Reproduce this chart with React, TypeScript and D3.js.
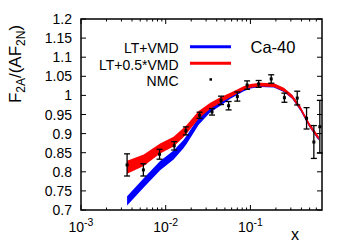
import * as d3 from 'd3';

const WIDTH = 350;
const HEIGHT = 245;
const MARGIN = { top: 19, right: 28, bottom: 35, left: 81 };

// NMC data: x, ratio, error
const nmcX = [0.0035, 0.00545, 0.00846, 0.0126, 0.0173, 0.0251, 0.0352, 0.045, 0.0553, 0.0701, 0.0914, 0.125, 0.176, 0.252, 0.357, 0.46, 0.561, 0.66];
const nmcY = [0.818, 0.805, 0.846, 0.868, 0.907, 0.948, 0.957, 0.987, 0.973, 0.997, 1.027, 1.03, 1.043, 0.994, 0.993, 0.94, 0.878, 0.918];
const nmcErr = [0.029, 0.016, 0.013, 0.011, 0.0105, 0.008, 0.0085, 0.011, 0.011, 0.012, 0.011, 0.009, 0.011, 0.012, 0.018, 0.028, 0.043, 0.069];

// model bands: centre and half width
const bandX = [0.0035, 0.0055, 0.0086, 0.0124, 0.0163, 0.0178, 0.0245, 0.0336, 0.0442, 0.058, 0.0833, 0.1, 0.131, 0.189, 0.248, 0.311, 0.39, 0.49, 0.64];
const redC = [0.812, 0.830, 0.861, 0.879, 0.903, 0.912, 0.949, 0.973, 0.988, 1.001, 1.019, 1.025, 1.028, 1.027, 1.015, 0.997, 0.966, 0.925, 0.888];
const redW = [0.017, 0.015, 0.013, 0.013, 0.012, 0.011, 0.01, 0.008, 0.007, 0.006, 0.005, 0.005, 0.005, 0.005, 0.005, 0.005, 0.005, 0.005, 0.005];
const blueC = [0.724, 0.771, 0.816, 0.844, 0.873, 0.885, 0.933, 0.964, 0.980, 0.997, 1.016, 1.023, 1.027, 1.026, 1.014, 0.996, 0.965, 0.924, 0.887];
const blueW = [0.012, 0.012, 0.012, 0.012, 0.011, 0.011, 0.01, 0.008, 0.007, 0.006, 0.005, 0.005, 0.005, 0.005, 0.005, 0.005, 0.005, 0.005, 0.005];

const yTicks = [0.7, 0.75, 0.8, 0.85, 0.9, 0.95, 1, 1.05, 1.1, 1.15, 1.2];
const xMajor = [1e-3, 1e-2, 1e-1];
const xLabels = ['-3', '-2', '-1'];

const legendNames = ['LT+VMD', 'LT+0.5*VMD', 'NMC'];
const legendColors = ['#0000ff', '#ff0000', '#000000'];

const FONT = 'Liberation Sans, Arial, Helvetica, sans-serif';

export default function App() {
    const x = d3.scaleLog().domain([1e-3, 0.7]).range([MARGIN.left, WIDTH - MARGIN.right]);
    const y = d3.scaleLinear().domain([0.7, 1.2]).range([HEIGHT - MARGIN.bottom, MARGIN.top]);
    const left = MARGIN.left;
    const right = WIDTH - MARGIN.right;
    const top = MARGIN.top;
    const bottom = HEIGHT - MARGIN.bottom;

    const band = (c: number[], w: number[]) =>
        d3.area<number>()
            .x((d) => x(d))
            .y0((d, i) => y(c[i] - w[i]))
            .y1((d, i) => y(c[i] + w[i]))(bandX) ?? '';

    // minor ticks 2..9 per decade
    const minor: number[] = [];
    for (let e = -3; e <= -1; e++) {
        for (let k = 2; k <= 9; k++) {
            const v = k * Math.pow(10, e);
            if (v < 0.7) minor.push(v);
        }
    }

    return (
        <svg width={WIDTH} height={HEIGHT} style={{ position: 'absolute', left: 0, top: 0 }} fontFamily={FONT}>
            {/* y ticks */}
            {yTicks.map((t, i) => (
                <g key={i}>
                    <line x1={left} x2={left + 5} y1={y(t)} y2={y(t)} stroke="#000" strokeWidth={1} />
                    <line x1={right - 5} x2={right} y1={y(t)} y2={y(t)} stroke="#000" strokeWidth={1} />
                    <text x={left - 9} y={y(t) + 5} textAnchor="end" fontSize={14}>
                        {t}
                    </text>
                </g>
            ))}
            {/* x ticks */}
            {xMajor.map((t, i) => (
                <g key={i}>
                    <line x1={x(t)} x2={x(t)} y1={bottom} y2={bottom - 5} stroke="#000" />
                    <line x1={x(t)} x2={x(t)} y1={top} y2={top + 5} stroke="#000" />
                    <text x={x(t)} y={bottom + 22} textAnchor="middle" fontSize={14}>
                        10
                        <tspan dy={-6} fontSize={10.5}>{xLabels[i]}</tspan>
                    </text>
                </g>
            ))}
            {minor.map((t, i) => (
                <g key={i}>
                    <line x1={x(t)} x2={x(t)} y1={bottom} y2={bottom - 2.5} stroke="#000" />
                    <line x1={x(t)} x2={x(t)} y1={top} y2={top + 2.5} stroke="#000" />
                </g>
            ))}

            {/* bands */}
            <path d={band(blueC, blueW)} fill="#0000ff" />
            <path d={band(redC, redW)} fill="#ff0000" />

            {/* NMC data */}
            {nmcX.map((v, i) => {
                const cx = x(v);
                const y0 = y(nmcY[i] - nmcErr[i]);
                const y1 = Math.max(y(nmcY[i] + nmcErr[i]), top);
                return (
                    <g key={i} stroke="#000" strokeWidth={1.3}>
                        <line x1={cx} x2={cx} y1={y0} y2={y1} />
                        <line x1={cx - 3} x2={cx + 3} y1={y0} y2={y0} />
                        <line x1={cx - 3} x2={cx + 3} y1={y1} y2={y1} />
                        <rect x={cx - 1.5} y={y(nmcY[i]) - 1.5} width={3} height={3} fill="#000" stroke="none" />
                    </g>
                );
            })}

            {/* frame */}
            <rect x={left} y={top} width={right - left} height={bottom - top} fill="none" stroke="#000" strokeWidth={1.5} />

            {/* legend */}
            {legendNames.map((n, i) => {
                const ly = 46.7 + i * 16.5;
                return (
                    <g key={i}>
                        <text x={178.5} y={ly + 6.3} textAnchor="end" fontSize={14}>
                            {n}
                        </text>
                        {i < 2 ? (
                            <line x1={190} x2={231} y1={ly} y2={ly} stroke={legendColors[i]} strokeWidth={3} />
                        ) : (
                            <rect x={209.5} y={ly - 1.5} width={2.5} height={2.5} fill="#000" />
                        )}
                    </g>
                );
            })}
            <text x={250.5} y={52.7} fontSize={16.5}>
                Ca-40
            </text>

            {/* axis labels */}
            <text x={295} y={240} textAnchor="middle" fontSize={16}>
                x
            </text>
            <text transform="translate(21,64) rotate(-90)" textAnchor="middle" fontSize={17}>
                F<tspan dy={4} fontSize={12}>2A</tspan>
                <tspan dy={-4}>/(AF</tspan>
                <tspan dy={4} fontSize={12}>2N</tspan>
                <tspan dy={-4}>)</tspan>
            </text>
        </svg>
    );
}
